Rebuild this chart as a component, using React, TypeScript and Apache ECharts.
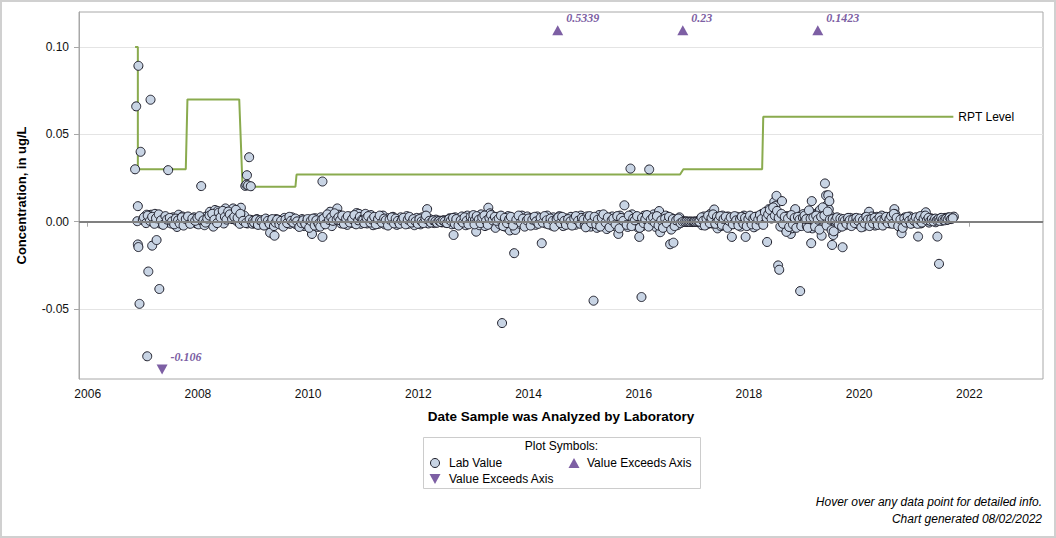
import React, { useEffect, useRef } from "react";
import * as echarts from "echarts";

// Axis ticks
const xTickYears = [2006, 2008, 2010, 2012, 2014, 2016, 2018, 2020, 2022];
const yTickValues = [-0.05, 0, 0.05, 0.1];
const xMin = 2005.842;
const xMax = 2023.337;
const yMin = -0.09;
const yMax = 0.12;

// Lab values: [decimal year analyzed, concentration in ug/L]
const lab2006to2008: [number, number][] = [
  [2006.86, 0.030], [2006.88, 0.066], [2006.90, 0.0003], [2006.91, 0.0089], [2006.91, -0.013],
  [2006.92, 0.0892], [2006.92, -0.0145], [2006.94, -0.047], [2006.96, 0.040], [2007.00, 0.001],
  [2007.04, 0.003], [2007.07, 0.004], [2007.08, -0.077], [2007.10, -0.0285], [2007.12, 0.002],
  [2007.14, 0.0698], [2007.15, 0.004], [2007.17, -0.0137], [2007.19, 0.001], [2007.22, 0.0045],
  [2007.25, -0.0105], [2007.27, 0.003], [2007.30, -0.0385], [2007.31, -0.001], [2007.35, 0.002],
  [2007.39, 0.0015], [2007.42, -0.0005], [2007.46, 0.0295], [2007.47, 0.001], [2007.51, -0.001],
  [2007.55, 0.0025], [2007.58, 0.001], [2007.62, -0.003], [2007.65, 0.004], [2007.69, 0.0015],
  [2007.72, 0.003], [2007.76, 0.0005], [2007.80, -0.0005], [2007.84, 0.002], [2007.88, 0.001],
  [2007.93, 0.0025], [2007.97, -0.001], [2008.01, -0.0015], [2008.04, 0.001], [2008.06, 0.0204],
  [2008.08, 0.002], [2008.12, -0.002], [2008.15, 0.003], [2008.19, 0.0005], [2008.22, 0.0057],
  [2008.24, 0.002], [2008.28, -0.0028], [2008.31, 0.0067], [2008.33, 0.003], [2008.36, 0.0061],
  [2008.39, 0.001], [2008.43, 0.004], [2008.47, -0.001], [2008.50, 0.0076], [2008.53, 0.005],
  [2008.56, 0.002], [2008.60, 0.0035], [2008.64, 0.0076], [2008.67, 0.006], [2008.70, 0.0005],
  [2008.74, 0.004], [2008.76, -0.0012], [2008.78, 0.008], [2008.80, 0.0015], [2008.84, 0.0035],
  [2008.86, 0.0205], [2008.88, 0.0212], [2008.89, 0.0266], [2008.90, -0.001], [2008.91, 0.0208],
  [2008.93, 0.0369], [2008.96, 0.0203], [2008.97, 0.001],
  [2007.02, 0.0025], [2007.06, -0.0008], [2007.09, 0.0035], [2007.13, 0.0005], [2007.17, 0.0028],
  [2007.21, -0.0012], [2007.24, 0.002], [2007.29, 0.0042], [2007.33, 0.0008], [2007.37, -0.0018],
  [2007.41, 0.0032], [2007.44, 0.0012], [2007.49, 0.0022], [2007.53, 0.0002], [2007.57, -0.0015],
  [2007.60, 0.0018], [2007.64, 0.0008], [2007.67, -0.001], [2007.71, 0.0025], [2007.74, -0.0022],
  [2007.78, 0.0015], [2007.82, 0.003], [2007.86, -0.0012], [2007.90, 0.0018], [2007.95, 0.0005],
  [2007.99, 0.0022], [2008.03, 0.0032], [2008.10, 0.0008], [2008.14, -0.0005], [2008.17, 0.0018],
  [2008.21, 0.0035], [2008.26, 0.0045], [2008.30, 0.0012], [2008.35, -0.0008], [2008.38, 0.0052],
  [2008.41, 0.0025], [2008.45, 0.0062], [2008.49, 0.0028], [2008.52, 0.0012], [2008.55, 0.0058],
  [2008.58, 0.0042], [2008.62, 0.0015], [2008.66, 0.0028], [2008.69, 0.0068], [2008.72, 0.0022],
  [2008.77, 0.0045], [2008.82, 0.0005], [2008.87, -0.0008], [2008.94, 0.0012], [2008.99, -0.0012],
];

const lab2009to2010: [number, number][] = [
  [2009.00, 0.0005], [2009.04, -0.001], [2009.07, 0.0015], [2009.11, 0.0], [2009.14, -0.0015],
  [2009.18, 0.001], [2009.21, -0.0005], [2009.25, 0.0012], [2009.28, -0.002], [2009.31, -0.0063],
  [2009.33, 0.0008], [2009.36, -0.001], [2009.39, -0.008], [2009.42, 0.0015], [2009.46, -0.0008],
  [2009.49, 0.001], [2009.53, -0.0018], [2009.57, 0.0022], [2009.60, 0.0003], [2009.64, 0.0018],
  [2009.67, -0.0012], [2009.71, 0.0025], [2009.75, 0.0008], [2009.78, -0.0015], [2009.82, 0.001],
  [2009.86, -0.002], [2009.89, 0.0015], [2009.93, -0.0025], [2009.97, 0.0005], [2010.00, -0.002],
  [2010.03, 0.0012], [2010.07, -0.007], [2010.10, -0.0015], [2010.13, 0.002], [2010.17, -0.003],
  [2010.20, 0.0008], [2010.23, 0.0025], [2010.26, 0.023], [2010.26, -0.0087], [2010.29, -0.001],
  [2010.33, 0.0015], [2010.36, 0.003], [2010.40, 0.0057], [2010.43, -0.0025], [2010.46, 0.0035],
  [2010.50, 0.002], [2010.53, 0.0076], [2010.56, 0.004], [2010.60, -0.001], [2010.63, 0.0025],
  [2010.67, 0.0005], [2010.71, -0.0018], [2010.74, 0.0012], [2010.78, 0.003], [2010.82, -0.0008],
  [2010.85, 0.0015], [2010.88, 0.005], [2010.89, 0.0002], [2010.92, 0.0045], [2010.96, -0.0012],
  [2009.02, -0.0005], [2009.06, 0.0012], [2009.09, -0.0018], [2009.13, 0.0008], [2009.16, 0.0002],
  [2009.20, -0.0022], [2009.23, 0.0018], [2009.27, 0.0005], [2009.30, -0.0012], [2009.35, 0.0015],
  [2009.38, -0.0025], [2009.41, -0.0005], [2009.44, 0.0012], [2009.48, -0.0015], [2009.51, 0.0005],
  [2009.55, -0.0028], [2009.59, 0.0012], [2009.62, -0.0008], [2009.66, 0.0028], [2009.69, 0.0005],
  [2009.73, -0.0005], [2009.77, 0.0018], [2009.80, 0.0002], [2009.84, -0.003], [2009.88, -0.0008],
  [2009.91, 0.0008], [2009.95, -0.0012], [2009.99, 0.0015], [2010.02, -0.0035], [2010.05, 0.0005],
  [2010.09, 0.0018], [2010.12, -0.0022], [2010.15, 0.0008], [2010.19, -0.0012], [2010.22, -0.0028],
  [2010.25, 0.0012], [2010.28, 0.0018], [2010.31, -0.0015], [2010.35, 0.0042], [2010.38, 0.001],
  [2010.42, 0.0025], [2010.45, 0.0005], [2010.48, 0.0048], [2010.52, 0.0012], [2010.55, 0.0025],
  [2010.58, 0.0008], [2010.62, 0.0035], [2010.65, -0.0012], [2010.69, 0.0018], [2010.72, 0.0032],
  [2010.76, -0.0005], [2010.80, 0.0015], [2010.84, 0.0038], [2010.87, -0.0015], [2010.91, 0.0008],
  [2010.94, 0.0028], [2010.98, 0.0012],
];

const lab2011to2012: [number, number][] = [
  [2011.00, 0.001], [2011.04, 0.0045], [2011.07, -0.001], [2011.11, 0.002], [2011.14, 0.0038],
  [2011.18, -0.002], [2011.21, 0.0005], [2011.25, 0.0025], [2011.28, -0.0012], [2011.32, 0.001],
  [2011.36, 0.0035], [2011.39, -0.0015], [2011.43, 0.0008], [2011.46, 0.002], [2011.50, -0.0005],
  [2011.54, 0.0028], [2011.57, 0.0], [2011.61, -0.0018], [2011.64, 0.0015], [2011.68, 0.0025],
  [2011.72, -0.0008], [2011.75, 0.001], [2011.79, 0.0032], [2011.82, -0.0012], [2011.86, 0.0018],
  [2011.89, 0.0004], [2011.93, -0.002], [2011.97, 0.0022], [2012.00, 0.0008], [2012.04, -0.0015],
  [2012.07, 0.0025], [2012.11, 0.0005], [2012.16, 0.0072], [2012.18, -0.001], [2012.21, 0.0015],
  [2012.25, 0.0002], [2012.29, -0.0008], [2012.32, 0.0012], [2012.36, 0.0], [2012.39, 0.0006],
  [2012.43, -0.0004], [2012.46, 0.0009], [2012.50, -0.0006], [2012.54, 0.0011], [2012.57, 0.002],
  [2012.61, -0.0015], [2012.64, -0.0076], [2012.67, 0.0025], [2012.71, 0.0008], [2012.75, -0.001],
  [2012.79, 0.003], [2012.82, 0.0015], [2012.86, -0.002], [2012.89, 0.0035], [2012.93, 0.0012],
  [2012.97, -0.0008],
  [2011.02, -0.0008], [2011.06, 0.0022], [2011.09, 0.0032], [2011.13, -0.0005], [2011.16, 0.0012],
  [2011.20, 0.0028], [2011.23, -0.0015], [2011.27, 0.0015], [2011.30, 0.0035], [2011.34, -0.0005],
  [2011.38, 0.0018], [2011.41, 0.0008], [2011.45, -0.0022], [2011.48, 0.0012], [2011.52, 0.0025],
  [2011.56, -0.001], [2011.59, 0.0018], [2011.63, 0.0005], [2011.66, -0.0012], [2011.70, 0.0008],
  [2011.73, 0.0022], [2011.77, -0.0015], [2011.81, 0.0012], [2011.84, 0.0028], [2011.88, -0.0005],
  [2011.91, 0.0015], [2011.95, 0.0002], [2011.99, -0.0012], [2012.02, 0.0015], [2012.06, 0.0002],
  [2012.09, -0.0008], [2012.13, 0.0018], [2012.14, 0.0035], [2012.20, 0.0005], [2012.23, -0.0005],
  [2012.27, 0.0008], [2012.31, 0.0002], [2012.34, -0.0006], [2012.38, 0.0004], [2012.41, -0.0002],
  [2012.45, 0.0006], [2012.48, 0.0001], [2012.52, -0.0008], [2012.56, 0.0015], [2012.59, 0.0005],
  [2012.63, 0.0022], [2012.66, -0.0012], [2012.69, 0.0015], [2012.73, -0.0022], [2012.77, 0.0008],
  [2012.81, -0.0005], [2012.84, 0.0025], [2012.88, 0.0005], [2012.91, -0.0015], [2012.95, 0.0028],
  [2012.99, 0.0012],
];

const lab2013to2014: [number, number][] = [
  [2013.00, 0.0038], [2013.03, 0.001], [2013.05, -0.0057], [2013.08, 0.0025], [2013.11, -0.002],
  [2013.14, 0.0042], [2013.18, 0.0015], [2013.21, -0.0025], [2013.25, 0.003], [2013.27, 0.008],
  [2013.30, 0.0048], [2013.33, -0.001], [2013.37, 0.002], [2013.40, -0.0035], [2013.44, 0.0028],
  [2013.48, -0.0015], [2013.52, -0.058], [2013.55, 0.0012], [2013.59, -0.003], [2013.63, 0.0032],
  [2013.66, -0.005], [2013.70, 0.0015], [2013.74, -0.018], [2013.76, -0.0047], [2013.80, 0.0025],
  [2013.84, -0.0012], [2013.88, 0.0035], [2013.91, 0.0005], [2013.95, -0.002], [2013.98, 0.003],
  [2014.02, -0.0008], [2014.05, 0.0022], [2014.09, 0.0005], [2014.13, -0.0018], [2014.16, 0.003],
  [2014.20, 0.001], [2014.24, -0.0123], [2014.27, 0.0018], [2014.31, -0.001], [2014.34, 0.0035],
  [2014.38, 0.0005], [2014.42, -0.0022], [2014.45, 0.0025], [2014.49, 0.0008], [2014.52, -0.0012],
  [2014.56, 0.0032], [2014.59, 0.0015], [2014.63, -0.0025], [2014.67, 0.002], [2014.70, 0.0002],
  [2014.74, -0.0015], [2014.77, 0.0028], [2014.81, 0.0008], [2014.85, -0.0018], [2014.88, 0.0022],
  [2014.92, -0.0005], [2014.95, 0.0035], [2014.99, 0.001],
  [2013.02, -0.0015], [2013.06, 0.0032], [2013.10, 0.0012], [2013.13, -0.0008], [2013.16, 0.0025],
  [2013.20, 0.0035], [2013.23, 0.0005], [2013.26, -0.0018], [2013.29, 0.0022], [2013.32, 0.0038],
  [2013.35, 0.0008], [2013.39, 0.0028], [2013.42, 0.0005], [2013.46, 0.0018], [2013.50, 0.0035],
  [2013.54, -0.0025], [2013.57, 0.0022], [2013.61, -0.0008], [2013.65, 0.0015], [2013.68, 0.0028],
  [2013.72, -0.0022], [2013.78, 0.0012], [2013.82, 0.0035], [2013.86, -0.0005], [2013.90, 0.0018],
  [2013.93, -0.0028], [2013.97, 0.0008], [2014.00, 0.0018], [2014.04, -0.0022], [2014.07, 0.0012],
  [2014.11, 0.0028], [2014.14, 0.0002], [2014.18, -0.0012], [2014.22, 0.0022], [2014.26, -0.0005],
  [2014.29, 0.0032], [2014.33, 0.0008], [2014.36, -0.0015], [2014.40, 0.0018], [2014.44, 0.0005],
  [2014.47, -0.0028], [2014.51, 0.0015], [2014.54, 0.0025], [2014.58, -0.0008], [2014.61, 0.0028],
  [2014.65, 0.0005], [2014.68, -0.0018], [2014.72, 0.0015], [2014.76, 0.0002], [2014.79, -0.0022],
  [2014.83, 0.0018], [2014.86, 0.0032], [2014.90, 0.0005], [2014.94, -0.0012], [2014.97, 0.0022],
];

const lab2015to2016: [number, number][] = [
  [2015.02, -0.002], [2015.06, 0.003], [2015.09, 0.0008], [2015.13, -0.0028], [2015.16, 0.0022],
  [2015.18, -0.0452], [2015.21, 0.0012], [2015.24, -0.0035], [2015.28, 0.0038], [2015.31, 0.0005],
  [2015.35, -0.0018], [2015.38, 0.0025], [2015.42, -0.0042], [2015.45, 0.0015], [2015.49, -0.0008],
  [2015.52, 0.003], [2015.56, -0.0025], [2015.59, 0.0012], [2015.63, -0.007], [2015.66, 0.0035],
  [2015.70, -0.001], [2015.74, 0.0094], [2015.76, 0.002], [2015.80, -0.003], [2015.83, 0.0015],
  [2015.85, 0.0304], [2015.88, 0.0042], [2015.91, -0.0015], [2015.95, 0.0025], [2015.98, -0.0032],
  [2016.01, -0.0087], [2016.03, 0.0018], [2016.05, -0.0431], [2016.07, -0.0025], [2016.10, 0.0035],
  [2016.13, 0.0005], [2016.16, -0.0018], [2016.19, 0.0299], [2016.20, 0.0028], [2016.24, -0.001],
  [2016.27, 0.0042], [2016.31, -0.003], [2016.34, 0.0015], [2016.37, 0.0061], [2016.39, -0.006],
  [2016.42, 0.0022], [2016.46, -0.0015], [2016.49, 0.0035], [2016.53, 0.0008], [2016.57, -0.0129],
  [2016.60, 0.002], [2016.63, -0.012], [2016.66, 0.0012], [2016.70, -0.002], [2016.74, 0.0025],
  [2016.78, 0.0005], [2016.82, 0.0], [2016.85, 0.0002], [2016.88, -0.0001], [2016.91, 0.0],
  [2016.94, 0.0001], [2016.97, -0.0002],
  [2015.00, 0.0012], [2015.04, -0.0032], [2015.08, 0.0015], [2015.11, 0.0032], [2015.14, -0.0008],
  [2015.20, 0.0028], [2015.23, -0.0015], [2015.26, 0.0012], [2015.30, -0.0028], [2015.33, 0.0022],
  [2015.36, 0.0042], [2015.40, -0.0005], [2015.44, 0.0025], [2015.47, -0.0032], [2015.51, 0.0008],
  [2015.54, 0.0018], [2015.58, -0.0015], [2015.61, 0.0032], [2015.65, -0.0038], [2015.68, 0.0022],
  [2015.72, 0.0005], [2015.78, -0.0018], [2015.82, 0.0035], [2015.87, -0.0025], [2015.90, 0.0018],
  [2015.93, 0.0008], [2015.97, 0.0032], [2016.02, -0.0035], [2016.06, 0.0022], [2016.09, -0.0008],
  [2016.12, 0.0015], [2016.15, 0.0038], [2016.18, -0.0028], [2016.22, 0.0012], [2016.26, 0.0025],
  [2016.29, -0.0005], [2016.33, 0.0032], [2016.36, -0.0022], [2016.41, 0.0008], [2016.44, -0.0035],
  [2016.48, 0.0018], [2016.51, -0.0008], [2016.55, 0.0028], [2016.59, -0.0045], [2016.62, 0.0015],
  [2016.65, -0.0025], [2016.68, 0.0008], [2016.72, 0.0018], [2016.76, -0.0008], [2016.80, 0.0],
  [2016.84, 0.0], [2016.87, 0.0001], [2016.90, 0.0], [2016.93, -0.0001], [2016.96, 0.0],
  [2016.99, 0.0],
];

const lab2017to2018: [number, number][] = [
  [2017.00, 0.0], [2017.03, 0.0001], [2017.06, 0.0], [2017.09, -0.0001], [2017.12, 0.0015],
  [2017.15, -0.002], [2017.18, 0.003], [2017.21, 0.0008], [2017.24, -0.0015], [2017.27, 0.0025],
  [2017.30, 0.0045], [2017.33, -0.001], [2017.37, 0.007], [2017.40, 0.002], [2017.43, -0.0038],
  [2017.46, 0.0012], [2017.49, -0.0025], [2017.52, 0.0035], [2017.56, 0.0005], [2017.59, -0.002],
  [2017.62, 0.003], [2017.66, 0.001], [2017.69, -0.0087], [2017.72, 0.0022], [2017.75, -0.0012],
  [2017.79, 0.0028], [2017.82, 0.0005], [2017.85, -0.0028], [2017.88, 0.0018], [2017.91, 0.0035],
  [2017.94, -0.0087], [2017.97, 0.0012], [2018.00, -0.002], [2018.03, 0.0025], [2018.06, 0.0008],
  [2018.09, -0.0032], [2018.12, 0.0015], [2018.15, 0.003], [2018.18, -0.001], [2018.21, 0.0022],
  [2018.24, 0.0045], [2018.27, 0.001], [2018.30, 0.0035], [2018.33, -0.0116], [2018.36, 0.0072],
  [2018.39, 0.0028], [2018.42, 0.0055], [2018.46, 0.0114], [2018.48, 0.009], [2018.50, 0.0148],
  [2018.53, -0.025], [2018.55, -0.0275], [2018.58, 0.0035], [2018.60, 0.0118], [2018.63, 0.0015],
  [2018.66, -0.0042], [2018.69, 0.0032], [2018.72, 0.0008], [2018.74, -0.0055], [2018.76, -0.007],
  [2018.78, -0.0038], [2018.81, 0.0025], [2018.84, 0.0072], [2018.87, 0.0015], [2018.90, -0.002],
  [2018.93, -0.0397], [2018.96, 0.0035], [2018.99, 0.0044],
  [2017.02, 0.0], [2017.05, 0.0], [2017.08, 0.0001], [2017.10, 0.0], [2017.14, 0.0025],
  [2017.17, 0.0005], [2017.20, -0.0022], [2017.23, 0.0018], [2017.26, 0.0035], [2017.29, -0.0008],
  [2017.32, 0.0022], [2017.35, 0.0042], [2017.39, -0.0012], [2017.42, 0.0028], [2017.45, 0.0008],
  [2017.48, 0.0032], [2017.51, -0.0018], [2017.54, 0.0015], [2017.58, 0.0028], [2017.61, -0.0035],
  [2017.64, 0.0005], [2017.67, 0.0025], [2017.71, -0.0015], [2017.74, 0.0032], [2017.77, 0.0008],
  [2017.81, -0.0022], [2017.84, 0.0015], [2017.87, 0.0028], [2017.90, -0.0012], [2017.93, 0.0022],
  [2017.96, -0.0025], [2017.99, 0.0015], [2018.02, 0.0035], [2018.05, -0.0015], [2018.08, 0.0018],
  [2018.11, 0.0028], [2018.14, -0.0022], [2018.17, 0.0012], [2018.20, 0.0038], [2018.23, 0.0015],
  [2018.26, -0.0018], [2018.29, 0.0055], [2018.32, 0.0022], [2018.35, 0.0042], [2018.38, 0.0068],
  [2018.41, 0.0018], [2018.44, 0.0082], [2018.47, 0.0035], [2018.51, 0.0062], [2018.54, 0.0022],
  [2018.57, -0.0028], [2018.59, 0.0045], [2018.62, -0.0012], [2018.65, 0.0028], [2018.68, -0.0058],
  [2018.71, 0.0018], [2018.73, -0.003], [2018.77, 0.0038], [2018.80, -0.0015], [2018.83, 0.0022],
  [2018.86, -0.0035], [2018.89, 0.0028], [2018.92, 0.0012], [2018.95, -0.0025], [2018.98, 0.0022],
];

const lab2019to2021: [number, number][] = [
  [2019.02, 0.001], [2019.05, -0.0025], [2019.08, 0.0052], [2019.10, 0.0028], [2019.13, -0.0123],
  [2019.14, 0.0118], [2019.15, -0.0038], [2019.18, 0.0042], [2019.21, 0.0015], [2019.23, -0.001],
  [2019.26, 0.0055], [2019.29, 0.0067], [2019.32, -0.008], [2019.35, 0.0048], [2019.38, 0.0219],
  [2019.40, 0.015], [2019.42, 0.0095], [2019.44, 0.0152], [2019.45, 0.0071], [2019.46, 0.0118],
  [2019.48, 0.0035], [2019.51, -0.0133], [2019.53, -0.0076], [2019.55, 0.002], [2019.58, -0.0025],
  [2019.61, -0.0038], [2019.64, 0.0012], [2019.67, -0.0015], [2019.70, -0.0146], [2019.72, 0.0008],
  [2019.75, -0.002], [2019.78, 0.0015], [2019.81, -0.001], [2019.84, 0.0022], [2019.87, -0.0018],
  [2019.90, 0.0005], [2019.93, 0.002], [2019.96, -0.0012], [2019.99, 0.0015], [2020.02, -0.002],
  [2020.05, 0.0012], [2020.08, -0.0028], [2020.11, 0.0025], [2020.14, 0.0005], [2020.18, 0.0057],
  [2020.20, -0.0015], [2020.23, 0.003], [2020.26, 0.001], [2020.29, -0.0022], [2020.32, 0.0028],
  [2020.35, 0.0008], [2020.38, -0.0012], [2020.41, 0.0035], [2020.44, 0.0015], [2020.47, -0.0005],
  [2020.50, 0.002], [2020.53, 0.0025], [2020.56, -0.001], [2020.59, 0.0018], [2020.62, 0.003],
  [2020.64, 0.0072], [2020.66, 0.0042], [2020.70, 0.0008], [2020.73, -0.0015], [2020.76, -0.0019],
  [2020.77, -0.0066], [2020.80, 0.001], [2020.83, 0.0025], [2020.86, 0.0002], [2020.89, 0.0015],
  [2020.92, 0.003], [2020.95, 0.0008], [2020.98, -0.0008], [2021.01, 0.0018], [2021.04, 0.0005],
  [2021.07, -0.0085], [2021.09, 0.0022], [2021.12, -0.001], [2021.15, 0.0028], [2021.18, 0.001],
  [2021.21, 0.0054], [2021.24, 0.0015], [2021.27, -0.0005], [2021.30, 0.002], [2021.33, 0.0008],
  [2021.36, 0.0012], [2021.39, -0.0003], [2021.42, -0.0085], [2021.45, -0.0241], [2021.47, 0.0018],
  [2021.50, 0.0005], [2021.53, 0.0015], [2021.56, 0.0022], [2021.59, 0.001], [2021.62, 0.0025],
  [2021.65, 0.0018], [2021.68, 0.0023], [2021.72, 0.0029],
  [2019.01, 0.0035], [2019.04, 0.0015], [2019.07, -0.0035], [2019.09, 0.0065], [2019.12, 0.0018],
  [2019.17, 0.0025], [2019.20, -0.0028], [2019.22, 0.0035], [2019.25, 0.0012], [2019.28, -0.0045],
  [2019.31, 0.0028], [2019.34, 0.0082], [2019.37, 0.0035], [2019.41, -0.0022], [2019.43, 0.0058],
  [2019.47, 0.0012], [2019.50, -0.0048], [2019.52, 0.0015], [2019.54, -0.0055], [2019.57, 0.0008],
  [2019.60, 0.0025], [2019.63, -0.0015], [2019.66, 0.0018], [2019.69, -0.0028], [2019.71, 0.0015],
  [2019.74, 0.0005], [2019.77, -0.0012], [2019.80, 0.0022], [2019.83, 0.0008], [2019.86, -0.0025],
  [2019.89, 0.0012], [2019.92, -0.0008], [2019.95, 0.0022], [2019.98, 0.0005], [2020.01, 0.0018],
  [2020.04, -0.0032], [2020.07, 0.0008], [2020.10, -0.001], [2020.13, 0.0028], [2020.16, 0.0012],
  [2020.19, -0.0025], [2020.22, 0.0015], [2020.25, -0.001], [2020.28, 0.0022], [2020.31, 0.0005],
  [2020.34, -0.0018], [2020.37, 0.0025], [2020.40, 0.0008], [2020.43, -0.0022], [2020.46, 0.0012],
  [2020.49, 0.0028], [2020.52, -0.0008], [2020.55, 0.0015], [2020.58, 0.0032], [2020.61, -0.0012],
  [2020.63, 0.0045], [2020.68, 0.0022], [2020.71, -0.0025], [2020.75, 0.0012], [2020.79, -0.0035],
  [2020.82, 0.0018], [2020.85, -0.0005], [2020.88, 0.0028], [2020.91, 0.0005], [2020.94, -0.0012],
  [2020.97, 0.0018], [2021.00, 0.0005], [2021.03, 0.0025], [2021.06, -0.0012], [2021.08, 0.0012],
  [2021.11, 0.0032], [2021.14, -0.0005], [2021.17, 0.0018], [2021.20, 0.0035], [2021.23, 0.0008],
  [2021.26, 0.0022], [2021.29, 0.0005], [2021.32, 0.0015], [2021.35, 0.0002], [2021.38, 0.0018],
  [2021.41, 0.0008], [2021.44, 0.0015], [2021.46, 0.0005], [2021.49, 0.0022], [2021.52, 0.0012],
  [2021.55, 0.0008], [2021.58, 0.0018], [2021.61, 0.0012], [2021.64, 0.0025], [2021.67, 0.0015],
  [2021.70, 0.002],
];

// Reporting level, as a sequence of [decimal year, ug/L] vertices
const rptLevel: [number, number][] = [
  [2006.86, 0.10], [2006.91, 0.10], [2006.91, 0.03], [2007.78, 0.03], [2007.81, 0.07],
  [2008.75, 0.07], [2008.81, 0.02], [2009.77, 0.02], [2009.79, 0.027], [2016.75, 0.027],
  [2016.81, 0.03], [2018.24, 0.03], [2018.26, 0.06], [2021.71, 0.06],
];

// Results outside the plotted range: [decimal year, reported value]
const exceedHigh: [number, number][] = [
  [2014.53, 0.5339], [2016.80, 0.23], [2019.25, 0.1423],
];
const exceedLow: [number, number][] = [[2007.35, -0.106]];
const axisCapHigh = 0.1095;
const axisCapLow = -0.0845;

const FONT = "'Liberation Sans', Arial, Helvetica, sans-serif";
const SERIF = "'Liberation Serif', 'Times New Roman', serif";
const PURPLE = "#7d5fa4";
const CIRCLE_FILL = "#c8d4e4";
const CIRCLE_EDGE = "#1e1e2a";
const GREEN = "#8aab4e";
const FRAME = "#a8a8a8";

export default function App() {
  const ref = useRef<HTMLDivElement>(null);

  useEffect(() => {
    if (!ref.current) return;
    const chart = echarts.init(ref.current, null, { renderer: "svg" });

    const labValues = [
      ...lab2006to2008, ...lab2009to2010, ...lab2011to2012, ...lab2013to2014,
      ...lab2015to2016, ...lab2017to2018, ...lab2019to2021,
    ];

    const exceedLabel = {
      show: true,
      position: "right" as const,
      distance: 3,
      offset: [0, -12],
      formatter: (p: any) => String(p.value[2]),
      color: PURPLE,
      fontFamily: SERIF,
      fontWeight: "bold" as const,
      fontStyle: "italic" as const,
      fontSize: 12,
    };

    const legendX = 423;
    const legendY = 437;

    chart.setOption({
      animation: false,
      backgroundColor: "#ffffff",
      textStyle: { fontFamily: FONT },
      grid: {
        left: 79, top: 12, width: 964, height: 367,
        show: true, borderColor: FRAME, borderWidth: 1,
        containLabel: false, outerBoundsMode: "none",
      },
      xAxis: {
        type: "value",
        min: xMin,
        max: xMax,
        name: "Date Sample was Analyzed by Laboratory",
        nameLocation: "middle",
        nameGap: 30,
        nameTextStyle: { fontSize: 13.5, fontWeight: "bold", color: "#000", fontFamily: FONT },
        axisLine: { show: true, lineStyle: { color: FRAME, width: 1 } },
        axisTick: { show: true, length: 5, customValues: xTickYears, lineStyle: { color: FRAME } },
        axisLabel: {
          customValues: xTickYears, margin: 9, fontSize: 12, color: "#111",
          fontFamily: FONT, formatter: (v: number) => String(Math.round(v)),
        },
        splitLine: { show: false },
      },
      yAxis: {
        type: "value",
        min: yMin,
        max: yMax,
        name: "Concentration, in ug/L",
        nameLocation: "middle",
        nameRotate: 90,
        nameGap: 51,
        nameTextStyle: { fontSize: 13, fontWeight: "bold", color: "#000", fontFamily: FONT },
        axisLine: { show: true, lineStyle: { color: FRAME, width: 1 } },
        axisTick: { show: true, length: 5, customValues: yTickValues, lineStyle: { color: FRAME } },
        axisLabel: {
          customValues: yTickValues, margin: 10, fontSize: 12, color: "#111",
          fontFamily: FONT, formatter: (v: number) => v.toFixed(2),
        },
        splitLine: { show: true, lineStyle: { color: "#e4e4e4", width: 1 } },
      },
      series: [
        {
          name: "zero",
          type: "scatter",
          data: [],
          silent: true,
          z: 1,
          markLine: {
            silent: true,
            symbol: "none",
            label: { show: false },
            lineStyle: { color: "#808080", width: 2, type: "solid" },
            data: [{ yAxis: 0 }],
          },
        },
        {
          name: "RPT Level",
          type: "line",
          data: rptLevel,
          showSymbol: false,
          symbol: "none",
          z: 2,
          lineStyle: { color: GREEN, width: 2 },
          endLabel: {
            show: true,
            formatter: "RPT Level",
            color: "#000",
            fontSize: 12,
            fontFamily: FONT,
            distance: 5,
          },
        },
        {
          name: "Lab Value",
          type: "scatter",
          data: labValues,
          symbol: "circle",
          symbolSize: 9,
          z: 3,
          itemStyle: { color: CIRCLE_FILL, borderColor: CIRCLE_EDGE, borderWidth: 1, opacity: 1 },
        },
        {
          name: "Value Exceeds Axis (high)",
          type: "scatter",
          data: exceedHigh.map(([d, v]) => [d, axisCapHigh, v]),
          encode: { x: 0, y: 1 },
          symbol: "triangle",
          symbolSize: [11, 10],
          z: 4,
          itemStyle: { color: PURPLE, opacity: 1 },
          label: exceedLabel,
        },
        {
          name: "Value Exceeds Axis (low)",
          type: "scatter",
          data: exceedLow.map(([d, v]) => [d, axisCapLow, v]),
          encode: { x: 0, y: 1 },
          symbol: "triangle",
          symbolRotate: 180,
          symbolSize: [11, 10],
          z: 4,
          itemStyle: { color: PURPLE, opacity: 1 },
          label: exceedLabel,
        },
      ],
      graphic: [
        {
          type: "rect",
          shape: { x: 1, y: 1, width: 1054, height: 536 },
          style: { fill: "none", stroke: "#d0d0d0", lineWidth: 2 },
          silent: true,
          z: 0,
        },
        {
          type: "group",
          x: legendX,
          y: legendY,
          children: [
            {
              type: "rect",
              shape: { x: 0.5, y: 0.5, width: 277, height: 51 },
              style: { fill: "#fff", stroke: "#cccccc", lineWidth: 1 },
            },
            {
              type: "text",
              x: 138.5, y: 9,
              style: {
                text: "Plot Symbols:", fill: "#000", font: `12px ${FONT}`,
                textAlign: "center", textVerticalAlign: "middle",
              },
            },
            {
              type: "circle",
              shape: { cx: 12, cy: 26, r: 4.5 },
              style: { fill: CIRCLE_FILL, stroke: CIRCLE_EDGE, lineWidth: 1 },
            },
            {
              type: "text",
              x: 26, y: 26,
              style: { text: "Lab Value", fill: "#000", font: `12px ${FONT}`, textVerticalAlign: "middle" },
            },
            {
              type: "polygon",
              shape: { points: [[151, 21], [156.5, 31], [145.5, 31]] },
              style: { fill: PURPLE },
            },
            {
              type: "text",
              x: 164, y: 26,
              style: { text: "Value Exceeds Axis", fill: "#000", font: `12px ${FONT}`, textVerticalAlign: "middle" },
            },
            {
              type: "polygon",
              shape: { points: [[6.5, 37], [17.5, 37], [12, 47]] },
              style: { fill: PURPLE },
            },
            {
              type: "text",
              x: 26, y: 42,
              style: { text: "Value Exceeds Axis", fill: "#000", font: `12px ${FONT}`, textVerticalAlign: "middle" },
            },
          ],
        },
        {
          type: "text",
          x: 1042, y: 502,
          style: {
            text: "Hover over any data point for detailed info.", fill: "#000",
            font: `italic 12px ${FONT}`, textAlign: "right", textVerticalAlign: "middle",
          },
        },
        {
          type: "text",
          x: 1042, y: 519,
          style: {
            text: "Chart generated 08/02/2022", fill: "#000",
            font: `italic 12px ${FONT}`, textAlign: "right", textVerticalAlign: "middle",
          },
        },
      ],
    });

    return () => chart.dispose();
  }, []);

  return (
    <div
      ref={ref}
      style={{ position: "fixed", left: 0, top: 0, width: 1056, height: 538, background: "#fff" }}
    />
  );
}
